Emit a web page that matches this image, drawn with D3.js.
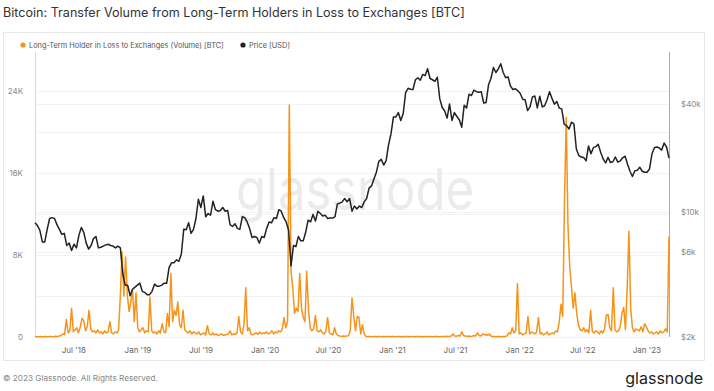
<!DOCTYPE html>
<html>
<head>
<meta charset="utf-8">
<script src="https://cdn.jsdelivr.net/npm/d3@7/dist/d3.min.js"></script>
<style>
  body { margin: 0; background: #fff; }
  svg { display: block; font-family: Inter, "Open Sans", sans-serif; }
</style>
</head>
<body>
<svg id="chart" width="714" height="391"></svg>
<script>
// volume LTH in loss -> exchanges [BTC], one value every 5 days from 2018-03-13
var volumeStart = "2018-03-13", volumeStep = 5;
var volume = [
  20, 30, 20, 40, 30, 20, 50, 30, 40, 60,
  30, 50, 80, 60, 100, 150, 300, 250, 1700, 400,
  600, 2800, 500, 700, 900, 400, 1000, 1800, 1600, 600,
  1000, 2600, 800, 500, 600, 400, 700, 400, 500, 300,
  600, 400, 500, 1500, 400, 300, 500, 400, 700, 4100,
  8300, 4000, 7800, 4100, 2500, 3400, 4600, 1500, 4300, 900,
  500, 700, 900, 400, 600, 500, 3900, 600, 400, 500,
  300, 600, 400, 1300, 500, 400, 2300, 1000, 6200, 1500,
  2600, 2100, 3400, 1200, 900, 2600, 700, 500, 400, 600,
  300, 500, 400, 300, 500, 200, 300, 400, 200, 1100,
  300, 200, 400, 200, 300, 150, 200, 300, 150, 200,
  250, 300, 600, 200, 300, 250, 400, 2000, 500, 300,
  1200, 4800, 600, 900, 300, 200, 300, 400, 250, 500,
  300, 400, 350, 500, 300, 400, 600, 300, 500, 400,
  600, 500, 800, 1900, 900, 1500, 22600, 6400, 4800, 2300,
  2800, 2500, 6200, 2800, 1900, 1500, 6400, 2700, 900, 600,
  800, 2100, 600, 500, 700, 400, 300, 600, 1900, 400,
  300, 200, 900, 300, 150, 100, 80, 100, 80, 100,
  150, 600, 3800, 2000, 600, 2000, 1900, 300, 1200, 300,
  60, 40, 50, 30, 40, 60, 30, 40, 50, 30,
  40, 30, 50, 40, 30, 60, 40, 30, 40, 50,
  30, 40, 30, 50, 40, 30, 40, 60, 30, 40,
  50, 30, 40, 30, 50, 40, 30, 60, 40, 30,
  40, 50, 30, 40, 60, 40, 50, 80, 60, 100,
  300, 100, 80, 150, 100, 500, 150, 100, 80, 100,
  60, 80, 150, 100, 400, 150, 100, 300, 200, 250,
  150, 300, 80, 50, 40, 30, 50, 40, 30, 50,
  60, 100, 400, 300, 900, 400, 600, 5200, 300, 400,
  200, 300, 400, 2000, 300, 500, 400, 300, 500, 1900,
  300, 400, 200, 300, 500, 200, 300, 400, 300, 600,
  500, 1500, 3200, 2000, 13400, 21400, 10800, 6900, 4900, 2800,
  4300, 2300, 1200, 700, 600, 900, 500, 700, 400, 2600,
  500, 400, 600, 500, 300, 600, 400, 800, 2100, 2200,
  900, 600, 4800, 700, 500, 600, 1000, 2300, 2900, 700,
  4800, 10300, 2800, 900, 500, 800, 700, 600, 1000, 500,
  1300, 1000, 600, 400, 500, 300, 400, 500, 300, 600,
  400, 500, 800, 500, 9800
];

// price [USD], weekly from 2018-03-13
var priceStart = "2018-03-13", priceStep = 7;
var price = [
  // 2018
  8700, 8400, 7900, 6800, 6800, 8000, 9200, 9300, 9200, 8500,
  8000, 7500, 7600, 6500, 6700, 6100, 6600, 6300, 7400, 8200,
  7700, 6700, 6200, 6500, 7100, 7300, 6300, 6350, 6450, 6550,
  6600, 6500, 6450, 6300, 6450, 6300, 4500, 3900, 3900, 3400,
  3700, 3800,
  // 2019
  3900, 4000, 3600, 3550, 3450, 3450, 3600, 3950, 3850, 3850,
  3900, 4000, 4000, 4900, 5200, 5200, 5400, 5300, 5800, 8000,
  7950, 8700, 7600, 8000, 9200, 11800, 10600, 12300, 9400, 9800,
  9600, 11500, 10300, 10100, 10200, 10600, 10100, 10200, 8500, 8300,
  8600, 8100, 8000, 9400, 9300, 8800, 8100, 7200, 7300, 7200,
  6700, 7300, 7200,
  // 2020
  8100, 8800, 8700, 9300, 9200, 10300, 10100, 9300, 8800, 7900,
  5000, 6500, 6400, 7300, 6900, 6900, 7700, 9000, 8800, 9700,
  8900, 10100, 9800, 9500, 9600, 9200, 9250, 9250, 9400, 11100,
  11200, 11400, 11900, 11400, 11900, 10100, 10800, 10400, 10800, 10600,
  11400, 11900, 13600, 14000, 15300, 16700, 19200, 19700, 18300, 19400,
  23800, 27400,
  // 2021
  34000, 34000, 36000, 32500, 35500, 46500, 49200, 48600, 48400, 54900,
  56300, 54500, 58800, 57900, 63300, 55800, 54900, 53800, 56700, 42900,
  38400, 36700, 33500, 40200, 32500, 36000, 34200, 32800, 29800, 39500,
  38200, 45600, 44800, 48000, 47100, 46800, 47100, 40700, 41000, 51500,
  56000, 64300, 60300, 63200, 67500, 60300, 56300, 57000, 50600, 48400,
  48900, 47600,
  // 2022
  46000, 42700, 42400, 36900, 38700, 44000, 44500, 38200, 44400, 38700,
  39300, 42400, 47100, 43200, 40100, 41500, 38100, 37700, 31000, 30400,
  29100, 31800, 31100, 22500, 20700, 20300, 20200, 19300, 23400, 21200,
  22900, 23200, 23900, 21500, 19800, 18800, 20200, 18900, 19100, 20300,
  19000, 19300, 20100, 20500, 18500, 16900, 15800, 17000, 17100, 17800,
  16900, 16700,
  // 2023
  16700, 17400, 21100, 22900, 23100, 22800, 22200, 24300, 23100, 20000
];

var volumeTicks = [0, 8000, 16000, 24000];
var priceTicks = [2000, 6000, 10000, 40000];
var volumeGrid = [0, 4000, 8000, 12000, 16000, 20000, 24000];
var dateTicks = ["2018-07-01", "2019-01-01", "2019-07-01", "2020-01-01", "2020-07-01",
                 "2021-01-01", "2021-07-01", "2022-01-01", "2022-07-01", "2023-01-01"];

var parseDate = d3.timeParse("%Y-%m-%d");

// turn the flat arrays into {date, value} rows
function series(startStr, step, values) {
  var t0 = parseDate(startStr);
  return values.map(function(v, i) { return { date: d3.timeDay.offset(t0, i * step), value: v }; });
}
var volData = series(volumeStart, volumeStep, volume);
var priceData = series(priceStart, priceStep, price);

var svg = d3.select("#chart");
var plot = { left: 35, right: 669, top: 62, bottom: 337 };

var x = d3.scaleTime()
  .domain([volData[0].date, volData[volData.length - 1].date])
  .range([plot.left, plot.right]);
var yVol = d3.scaleLinear().domain([0, 26800]).range([plot.bottom, plot.top]);
var yPrice = d3.scaleLog().domain([2000, 69000]).range([plot.bottom, plot.top]);

// title
svg.append("text").attr("x", 3).attr("y", 17)
  .style("font-size", "12.6px").attr("fill", "#333")
  .text("Bitcoin: Transfer Volume from Long-Term Holders in Loss to Exchanges [BTC]");

// frame around the chart
svg.append("rect").attr("x", 3.5).attr("y", 32.5).attr("width", 701).attr("height", 328)
  .attr("fill", "none").attr("stroke", "#e8e8e8");

// legend
var legend = svg.append("g").style("font-size", "7.4px").attr("fill", "#555");
legend.append("circle").attr("cx", 23).attr("cy", 45).attr("r", 2.6).attr("fill", "#f7931a");
legend.append("text").attr("x", 29).attr("y", 47.7).text("Long-Term Holder in Loss to Exchanges (Volume) [BTC]");
legend.append("circle").attr("cx", 243).attr("cy", 45).attr("r", 2.6).attr("fill", "#222");
legend.append("text").attr("x", 249).attr("y", 47.7).text("Price [USD]");

// grid
svg.append("g").selectAll("line").data(volumeGrid).enter().append("line")
  .attr("x1", plot.left).attr("x2", plot.right)
  .attr("y1", function(d) { return Math.round(yVol(d)) + 0.5; })
  .attr("y2", function(d) { return Math.round(yVol(d)) + 0.5; })
  .attr("stroke", "#f2f2f2");
svg.append("g").selectAll("line").data(priceTicks.slice(1)).enter().append("line")
  .attr("x1", plot.left).attr("x2", plot.right)
  .attr("y1", function(d) { return Math.round(yPrice(d)) + 0.5; })
  .attr("y2", function(d) { return Math.round(yPrice(d)) + 0.5; })
  .attr("stroke", "#f2f2f2");

// watermark
svg.append("text").attr("x", 236).attr("y", 210)
  .attr("textLength", 238).attr("lengthAdjust", "spacingAndGlyphs")
  .style("font-size", "58px").attr("fill", "#ebebeb")
  .text("glassnode");

// axis side lines
svg.append("line").attr("x1", plot.left + 0.5).attr("x2", plot.left + 0.5)
  .attr("y1", 52).attr("y2", plot.bottom).attr("stroke", "#f6d3a8");
svg.append("line").attr("x1", plot.right + 0.5).attr("x2", plot.right + 0.5)
  .attr("y1", 52).attr("y2", plot.bottom).attr("stroke", "#aaa");

// volume line
var volLine = d3.line()
  .x(function(d) { return x(d.date); })
  .y(function(d) { return yVol(d.value); });
svg.append("path").datum(volData)
  .attr("d", volLine)
  .attr("fill", "none").attr("stroke", "#f7931a").attr("stroke-width", 1.5)
  .attr("stroke-linejoin", "round");

// price line
var priceLine = d3.line()
  .x(function(d) { return x(d.date); })
  .y(function(d) { return yPrice(d.value); });
svg.append("path").datum(priceData)
  .attr("d", priceLine)
  .attr("fill", "none").attr("stroke", "#222").attr("stroke-width", 1.5)
  .attr("stroke-linejoin", "round");

// axes
var fmtK = function(d) { return d === 0 ? "0" : (d / 1000) + "K"; };
var leftAxis = svg.append("g").attr("transform", "translate(" + (plot.left - 9) + ",0)")
  .call(d3.axisLeft(yVol).tickValues(volumeTicks).tickFormat(fmtK).tickSize(0));
var rightAxis = svg.append("g").attr("transform", "translate(" + (plot.right + 9) + ",0)")
  .call(d3.axisRight(yPrice).tickValues(priceTicks)
    .tickFormat(function(d) { return "$" + (d / 1000) + "k"; }).tickSize(0));
var bottomAxis = svg.append("g").attr("transform", "translate(0," + (plot.bottom + 7) + ")")
  .call(d3.axisBottom(x).tickValues(dateTicks.map(parseDate))
    .tickFormat(d3.timeFormat("%b '%y")).tickSize(0));
[leftAxis, rightAxis, bottomAxis].forEach(function(a) {
  a.select(".domain").remove();
  a.selectAll("text").style("font-family", "Inter, sans-serif").style("font-size", "8px").attr("fill", "#888");
});
bottomAxis.selectAll("text").attr("fill", "#666");

// footer
svg.append("text").attr("x", 3).attr("y", 381)
  .style("font-size", "8.2px").attr("fill", "#888")
  .text("\u00a9 2023 Glassnode. All Rights Reserved.");
svg.append("text").attr("x", 703).attr("y", 384).attr("text-anchor", "end")
  .style("font-size", "16px").attr("fill", "#222")
  .text("glassnode");
</script>
</body>
</html>
